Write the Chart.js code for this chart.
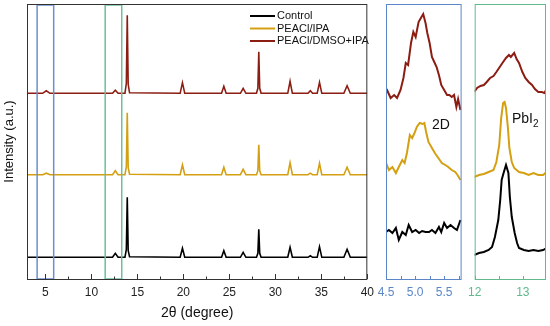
<!DOCTYPE html>
<html>
<head>
<meta charset="utf-8">
<script src="https://cdn.jsdelivr.net/npm/chart.js@4.4.1/dist/chart.umd.min.js"></script>
<style>
  html, body { margin: 0; padding: 0; background: #fff; }
  #wrap { position: relative; width: 550px; height: 326px; overflow: hidden; }
  .box { position: absolute; top: 0; height: 326px; }
</style>
</head>
<body>
<div id="wrap">
  <div class="box" style="left:0;width:380px"><canvas id="main"></canvas></div>
  <div class="box" style="left:370px;width:100px"><canvas id="inset2d"></canvas></div>
  <div class="box" style="left:462px;width:88px"><canvas id="insetPb"></canvas></div>
</div>
<script>
// ---- main XRD patterns (2θ in degrees, intensity in a.u.) ----
const seriesLabels = ['Control', 'PEACl/IPA', 'PEACl/DMSO+IPA'];
const seriesColors = ['#000000', '#d4a012', '#8c1d12'];
const traceOffsets = [21.7, 104.3, 185.7];

const mainX = [3, 4.7, 5.1, 5.5, 12.3, 12.6, 12.9, 13.65, 13.8, 13.9, 14.0, 14.15,
  19.65, 19.9, 20.15, 24.15, 24.4, 24.65, 26.2, 26.5, 26.8, 27.95, 28.1, 28.2, 28.3, 28.45,
  31.35, 31.6, 31.85, 33.55, 33.8, 34.05, 34.55, 34.8, 35.05, 37.45, 37.8, 38.15, 40];
const controlY = [0, 0, 0, 0, 0, 4, 0, 0, 8, 60, 7, 0.5,
  0, 9, 0, 0, 6.6, 0, 0, 5, 0, 0, 4, 28, 4, 0,
  0, 10, 0, 0, 1.5, 0, 0, 10.6, 0, 0, 8, 0, 0];
const ipaY = [0, 0, 1.5, 0, 0, 4, 0, 0, 8, 62, 7, 0.5,
  0, 10, 0, 0, 7.4, 0, 0, 5.4, 0, 0, 4, 30, 4, 0,
  0, 12, 0, 0, 1.5, 0, 0, 11.4, 0, 0, 7.4, 0, 0];
const dmsoY = [0, 0, 2.5, 0, 0, 3, 0, 0, 10, 78, 9, 0.5,
  0, 10.6, 0, 0, 7, 0, 0, 5, 0, 0, 5, 41.6, 5, 0,
  0, 12, 0, 0, 2.5, 0, 0, 11, 0, 0, 7.6, 0, 0];

const mainTicks = [5, 7.5, 10, 12.5, 15, 17.5, 20, 22.5, 25, 27.5, 30, 32.5, 35, 37.5, 40];
const zoomRanges = [[4.1, 5.9, '#6b8fcf'], [11.5, 13.3, '#6cc09a']];

// ---- inset: 2D region (4.5–5.8°) ----
const x2dDmso = [4.51, 4.58, 4.64, 4.69, 4.75, 4.80, 4.84, 4.88, 4.93, 4.97, 5.01, 5.06, 5.10, 5.14,
  5.18, 5.21, 5.25, 5.29, 5.33, 5.37, 5.41, 5.45, 5.50, 5.55, 5.59, 5.63, 5.67, 5.71, 5.74, 5.78];
const y2dDmso = [190, 181, 184, 181, 189, 201, 216, 214, 236, 247, 242, 257, 261, 265,
  256, 246, 236, 222, 217, 212, 204, 194, 189, 184, 184, 182, 184, 172, 180, 169];
const x2dIpa = [4.50, 4.55, 4.61, 4.67, 4.72, 4.78, 4.82, 4.86, 4.91, 4.95, 4.99, 5.03, 5.08, 5.13,
  5.16, 5.19, 5.23, 5.29, 5.34, 5.40, 5.46, 5.52, 5.57, 5.63, 5.69, 5.73, 5.78];
const y2dIpa = [116, 109, 112, 106, 112, 119, 116, 126, 144, 141, 146, 152, 156, 155,
  156, 147, 137, 131, 126, 121, 116, 114, 112, 109, 107, 104, 99];
const x2dCtrl = [4.50, 4.55, 4.61, 4.67, 4.72, 4.78, 4.84, 4.89, 4.95, 5.01, 5.07, 5.12, 5.18, 5.24,
  5.29, 5.35, 5.41, 5.45, 5.50, 5.55, 5.61, 5.67, 5.72, 5.78];
const y2dCtrl = [47, 49, 46, 51, 39, 47, 44, 54, 47, 49, 46, 48, 47, 47,
  49, 46, 52, 47, 56, 51, 54, 51, 49, 59];

// ---- inset: PbI2 region (12–13.5°) ----
const xPbDmso = [11.99, 12.05, 12.12, 12.19, 12.25, 12.32, 12.39, 12.45, 12.52, 12.59, 12.65, 12.71,
  12.75, 12.82, 12.87, 12.92, 12.99, 13.05, 13.12, 13.19, 13.25, 13.32, 13.39, 13.45, 13.49];
const yPbDmso = [187, 191, 193, 194, 197, 201, 203, 207, 212, 217, 221, 224,
  222, 226, 220, 216, 207, 201, 197, 194, 190, 187, 187, 186, 190];
const xPbIpa = [11.99, 12.09, 12.19, 12.29, 12.39, 12.45, 12.51, 12.55, 12.59, 12.62, 12.65, 12.69,
  12.72, 12.77, 12.82, 12.92, 13.02, 13.12, 13.22, 13.32, 13.42, 13.49];
const yPbIpa = [102, 104, 105, 107, 109, 117, 134, 161, 176, 177, 171, 151,
  131, 117, 111, 107, 106, 104, 106, 104, 104, 107];
const xPbCtrl = [11.99, 12.09, 12.19, 12.29, 12.36, 12.42, 12.49, 12.53, 12.56, 12.60, 12.65, 12.70,
  12.73, 12.77, 12.83, 12.88, 12.92, 13.02, 13.12, 13.22, 13.32, 13.42, 13.49];
const yPbCtrl = [24, 26, 27, 29, 32, 42, 59, 79, 99, 106, 114, 106,
  82, 62, 46, 36, 31, 29, 28, 29, 28, 29, 31];

const FONT = 'Liberation Sans, Arial, sans-serif';
const pts = (xs, ys, off = 0) => xs.map((x, i) => ({ x, y: ys[i] + off }));

function frameTicks(color, ticks, majorLen, minorLen, isMajor) {
  return {
    id: 'frameTicks',
    afterDraw(chart) {
      const { ctx, chartArea: a, scales: { x } } = chart;
      ctx.save();
      ctx.strokeStyle = color;
      ctx.lineWidth = 1;
      ctx.strokeRect(a.left + 0.5, a.top + 0.5, a.right - a.left - 1, a.bottom - a.top);
      ticks.forEach(v => {
        const px = Math.round(x.getPixelForValue(v)) + 0.5;
        const len = isMajor(v) ? majorLen : minorLen;
        ctx.beginPath();
        ctx.moveTo(px, a.bottom);
        ctx.lineTo(px, a.bottom - len);
        ctx.stroke();
      });
      ctx.restore();
    }
  };
}

function xAxis(min, max, ticks, labelFn, color, title) {
  return {
    type: 'linear', min, max,
    afterBuildTicks: s => { s.ticks = ticks.map(v => ({ value: v })); },
    afterFit: s => { s.height = 47; },
    grid: { display: false, drawTicks: false },
    border: { display: false },
    ticks: { autoSkip: false, maxRotation: 0, padding: 6, color, font: { family: FONT, size: 12 }, callback: labelFn },
    title: title ? { display: true, text: title, color: '#111', font: { family: FONT, size: 14 }, padding: { top: 0, bottom: 4 } } : { display: false }
  };
}

const lineDs = (label, data, color, width) => ({
  label, data, borderColor: color, backgroundColor: color,
  borderWidth: width, pointRadius: 0, tension: 0, fill: false
});

// ---- main chart ----
new Chart(document.getElementById('main'), {
  type: 'line',
  data: {
    datasets: [
      lineDs(seriesLabels[0], pts(mainX, controlY, traceOffsets[0]), seriesColors[0], 1.6),
      lineDs(seriesLabels[1], pts(mainX, ipaY, traceOffsets[1]), seriesColors[1], 1.6),
      lineDs(seriesLabels[2], pts(mainX, dmsoY, traceOffsets[2]), seriesColors[2], 1.6)
    ]
  },
  options: {
    responsive: true, maintainAspectRatio: false, animation: false,
    layout: { padding: { top: 4, right: 11, left: 0, bottom: 0 } },
    plugins: { legend: { display: false }, tooltip: { enabled: false } },
    scales: {
      x: xAxis(3, 40, mainTicks, v => (v % 5 === 0 ? v : ''), '#222', '2θ (degree)'),
      y: {
        min: 0, max: 275,
        afterFit: s => { s.width = 27; },
        grid: { display: false, drawTicks: false },
        border: { display: false },
        ticks: { display: false },
        title: { display: true, text: 'Intensity (a.u.)', color: '#111', font: { family: FONT, size: 13 }, padding: { top: 2, bottom: 0 } }
      }
    }
  },
  plugins: [
    frameTicks('#333', mainTicks, 5, 2.5, v => v % 5 === 0),
    {
      id: 'extras',
      afterDatasetsDraw(chart) {
        const { ctx, chartArea: a, scales: { x } } = chart;
        ctx.save();
        ctx.lineWidth = 1.5;
        zoomRanges.forEach(([lo, hi, c]) => {
          ctx.strokeStyle = c;
          const l = x.getPixelForValue(lo), r = x.getPixelForValue(hi);
          ctx.strokeRect(l, a.top + 1, r - l, a.bottom - a.top - 1);
        });
        // legend
        ctx.font = '11px ' + FONT;
        ctx.textBaseline = 'middle';
        ctx.lineWidth = 2;
        [16, 28.5, 41].forEach((yy, i) => {
          ctx.strokeStyle = seriesColors[i];
          ctx.beginPath(); ctx.moveTo(250, yy); ctx.lineTo(275, yy); ctx.stroke();
          ctx.fillStyle = '#111';
          ctx.fillText(seriesLabels[i], 277, yy);
        });
        ctx.restore();
      }
    }
  ]
});

// ---- inset charts ----
function inset(id, min, max, ticks, labelFn, color, sets, padL, padR, note) {
  new Chart(document.getElementById(id), {
    type: 'line',
    data: { datasets: sets.map(([xs, ys, c]) => lineDs('', pts(xs, ys), c, 2)) },
    options: {
      responsive: true, maintainAspectRatio: false, animation: false,
      layout: { padding: { top: 4, right: padR, left: padL, bottom: 0 } },
      plugins: { legend: { display: false }, tooltip: { enabled: false } },
      scales: {
        x: xAxis(min, max, ticks, labelFn, color, null),
        y: { display: false, min: 0, max: 275 }
      }
    },
    plugins: [frameTicks(color, ticks, 3, 3, () => true), note]
  });
}

inset('inset2d', 4.5, 5.8, [4.5, 4.75, 5.0, 5.25, 5.5, 5.75],
  v => ([4.5, 5.0, 5.5].includes(v) ? v.toFixed(1) : ''), '#5b86c9',
  [[x2dCtrl, y2dCtrl, seriesColors[0]], [x2dIpa, y2dIpa, seriesColors[1]], [x2dDmso, y2dDmso, seriesColors[2]]],
  16, 8.4,
  { id: 'note2d', afterDraw(chart) {
      const ctx = chart.ctx;
      ctx.save(); ctx.font = '14px ' + FONT; ctx.fillStyle = '#111'; ctx.textBaseline = 'alphabetic';
      ctx.fillText('2D', 62, 129); ctx.restore();
  } });

inset('insetPb', 12, 13.48, [12, 12.5, 13],
  v => (v % 1 === 0 ? String(v) : ''), '#62b98e',
  [[xPbCtrl, yPbCtrl, seriesColors[0]], [xPbIpa, yPbIpa, seriesColors[1]], [xPbDmso, yPbDmso, seriesColors[2]]],
  10, 4,
  { id: 'notePb', afterDraw(chart) {
      const ctx = chart.ctx;
      ctx.save(); ctx.fillStyle = '#111'; ctx.textBaseline = 'alphabetic';
      ctx.font = '14px ' + FONT; ctx.fillText('PbI', 50, 123);
      const w = ctx.measureText('PbI').width;
      ctx.font = '10px ' + FONT; ctx.fillText('2', 50 + w, 127);
      ctx.restore();
  } });
</script>
</body>
</html>
